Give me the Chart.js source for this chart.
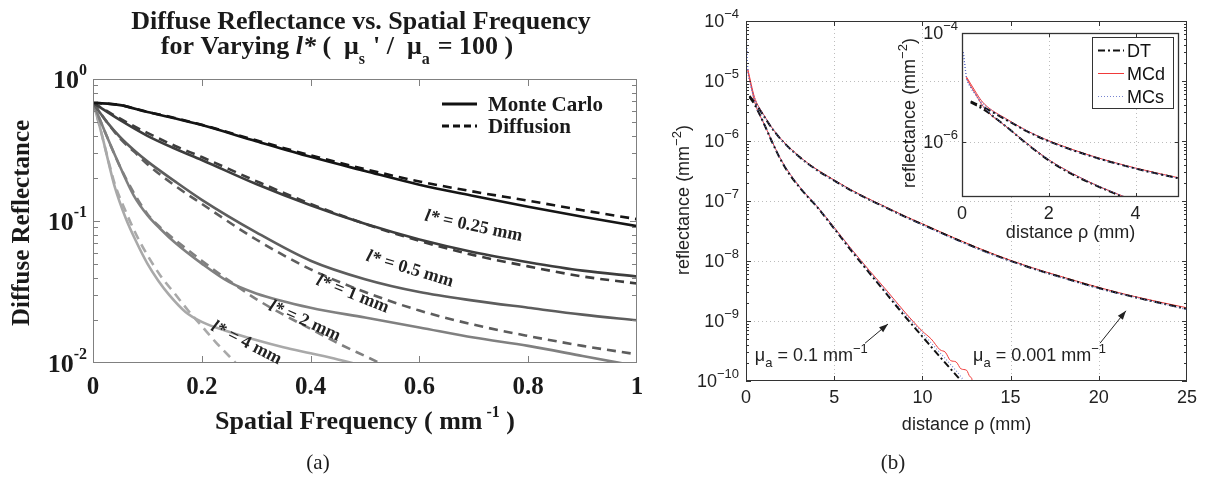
<!DOCTYPE html>
<html><head><meta charset="utf-8">
<script src="https://cdn.jsdelivr.net/npm/chart.js@4.4.1/dist/chart.umd.min.js"></script>
<style>
html,body{margin:0;padding:0;background:#fff;}
#wrap{position:relative;width:1206px;height:477px;overflow:hidden;background:#fff;}
canvas{position:absolute;top:0;}
</style></head><body>
<div id="wrap">
<canvas id="cA" width="645" height="477" style="left:0px"></canvas>
<canvas id="cB" width="566" height="477" style="left:640px"></canvas>
<canvas id="cC" width="566" height="477" style="left:640px"></canvas>
</div>
<script>
// ================= Panel (a) data : diffuse reflectance vs spatial frequency =================
const lstarNames = ['0.25', '0.5', '1', '2', '4'];
const freq025 = [0, 0.05, 0.1, 0.15, 0.2, 0.3, 0.4, 0.5, 0.6, 0.7, 0.8, 0.9, 1.0];
const mc025   = [0.68, 0.655, 0.585, 0.53, 0.474, 0.365, 0.283, 0.225, 0.18, 0.15, 0.126, 0.107, 0.092];
const df025   = [0.68, 0.655, 0.587, 0.532, 0.476, 0.37, 0.29, 0.232, 0.19, 0.161, 0.139, 0.119, 0.103];
const freq05  = [0, 0.05, 0.1, 0.15, 0.2, 0.3, 0.4, 0.5, 0.6, 0.7, 0.8, 0.9, 1.0];
const mc05    = [0.68, 0.513, 0.398, 0.324, 0.269, 0.182, 0.129, 0.0955, 0.0741, 0.0603, 0.0513, 0.0447, 0.0407];
const df05    = [0.68, 0.525, 0.417, 0.339, 0.282, 0.191, 0.132, 0.0955, 0.0724, 0.0575, 0.0479, 0.0407, 0.0363];
const freq1   = [0, 0.025, 0.05, 0.075, 0.1, 0.15, 0.2, 0.3, 0.4, 0.5, 0.6, 0.7, 0.8, 0.9, 1.0];
const mc1     = [0.68, 0.501, 0.389, 0.316, 0.263, 0.191, 0.141, 0.0832, 0.0525, 0.0389, 0.0316, 0.0275, 0.0245, 0.0219, 0.02];
const df1     = [0.68, 0.501, 0.380, 0.309, 0.251, 0.178, 0.132, 0.0741, 0.0457, 0.0316, 0.0234, 0.0186, 0.0155, 0.0132, 0.0115];
const freq2mc = [0, 0.025, 0.05, 0.075, 0.1, 0.125, 0.15, 0.2, 0.25, 0.3, 0.4, 0.5, 0.6, 0.7, 0.8, 0.9, 1.0];
const mc2     = [0.68, 0.398, 0.240, 0.151, 0.110, 0.0871, 0.0708, 0.0501, 0.0372, 0.0309, 0.0245, 0.0209, 0.0178, 0.0151, 0.0132, 0.0112, 0.0095];
const freq2df = [0, 0.025, 0.05, 0.075, 0.1, 0.125, 0.15, 0.2, 0.25, 0.3, 0.35, 0.4, 0.45, 0.5, 0.55];
const df2     = [0.68, 0.398, 0.240, 0.158, 0.112, 0.0891, 0.0741, 0.0525, 0.038, 0.0282, 0.0219, 0.0174, 0.0138, 0.0112, 0.0091];
const freq4mc = [0, 0.01, 0.02, 0.03, 0.04, 0.06, 0.08, 0.1, 0.12, 0.14, 0.17, 0.2, 0.25, 0.3, 0.35, 0.4, 0.45, 0.5];
const mc4     = [0.68, 0.501, 0.355, 0.245, 0.174, 0.105, 0.0708, 0.0501, 0.038, 0.0302, 0.0229, 0.0195, 0.0166, 0.0145, 0.0129, 0.0117, 0.0106, 0.0095];
const freq4df = [0, 0.01, 0.02, 0.03, 0.04, 0.06, 0.08, 0.1, 0.125, 0.15, 0.175, 0.2, 0.225, 0.25, 0.275];
const df4     = [0.68, 0.501, 0.355, 0.251, 0.182, 0.117, 0.0794, 0.0575, 0.0407, 0.0309, 0.0234, 0.0182, 0.0141, 0.0112, 0.0089];
const xTicksA = [0, 0.2, 0.4, 0.6, 0.8, 1];
const xTickLabelsA = ['0', '0.2', '0.4', '0.6', '0.8', '1'];
const yTicksA = [1, 0.1, 0.01];
const yTickExpA = ['0', '-1', '-2'];
// curve label anchors (data coordinates)
const labelFreqA = [0.70, 0.583, 0.478, 0.39, 0.283];
const labelReflA = [0.0937, 0.0467, 0.0311, 0.0201, 0.0141];

// ================= Panel (b) data : reflectance vs distance (log10 values) =================
const rhoHiDT  = [0.2, 0.5, 1, 1.5, 2, 3, 4, 5, 6, 7, 8, 9, 10, 12, 14, 16, 18, 20, 22, 25];
const logHiDT  = [-5.25, -5.36, -5.58, -5.8, -5.98, -6.26, -6.48, -6.66, -6.83, -6.98, -7.12, -7.26, -7.39, -7.65, -7.89, -8.1, -8.28, -8.45, -8.6, -8.8];
const rhoHiMCd = [0.1, 0.2, 0.3, 0.45, 0.6, 1, 1.5, 2, 3, 4, 5, 6, 7, 8, 9, 10, 12, 14, 16, 18, 20, 22, 25];
const logHiMCd = [-4.8, -4.93, -5.06, -5.24, -5.36, -5.56, -5.79, -5.97, -6.25, -6.47, -6.65, -6.82, -6.97, -7.11, -7.25, -7.38, -7.64, -7.88, -8.09, -8.27, -8.44, -8.59, -8.78];
const rhoHiMCs = [0.03, 0.06, 0.1, 0.2, 0.3, 0.5, 1, 2, 3, 4, 5, 6, 8, 10, 12, 14, 16, 18, 20, 22, 25];
const logHiMCs = [-4.35, -4.55, -4.8, -4.98, -5.1, -5.3, -5.57, -5.98, -6.26, -6.48, -6.66, -6.83, -7.12, -7.4, -7.66, -7.9, -8.1, -8.29, -8.46, -8.6, -8.81];
const rhoLoDT  = [0.2, 0.5, 1, 1.5, 2, 2.5, 3, 3.5, 4, 5, 6, 7, 8, 9, 10, 11, 12, 12.6];
const logLoDT  = [-5.27, -5.4, -5.7, -6.03, -6.33, -6.57, -6.76, -6.93, -7.09, -7.46, -7.84, -8.2, -8.56, -8.92, -9.26, -9.6, -9.93, -10.13];
const rhoLoMCd = [0.1, 0.2, 0.3, 0.45, 0.6, 1, 1.5, 2, 3, 4, 5, 6, 7, 8, 9, 10, 10.5, 11, 11.3, 11.6, 11.9, 12.2, 12.5, 12.7, 12.8, 12.85];
const logLoMCd = [-4.82, -4.97, -5.1, -5.3, -5.45, -5.7, -6.02, -6.32, -6.75, -7.08, -7.44, -7.81, -8.16, -8.5, -8.85, -9.17, -9.3, -9.48, -9.52, -9.66, -9.68, -9.8, -9.82, -9.93, -9.96, -10.1];
const rhoLoMCs = [0.03, 0.06, 0.1, 0.2, 0.3, 0.5, 1, 2, 3, 4, 5, 6, 7, 8, 9, 10, 11, 12, 12.5];
const logLoMCs = [-4.35, -4.55, -4.8, -5.0, -5.12, -5.35, -5.7, -6.32, -6.75, -7.08, -7.45, -7.82, -8.18, -8.53, -8.88, -9.2, -9.53, -9.86, -10.05];
const xTicksB = [0, 5, 10, 15, 20, 25];
const yExpB = [-4, -5, -6, -7, -8, -9, -10];
const xTicksInset = [0, 2, 4];
const yExpInset = [-4, -6];
const seriesNamesB = ['DT', 'MCd', 'MCs'];

// ================= helpers =================
const SERIF = '"Liberation Serif","Times New Roman",serif';
const SANS = '"Liberation Sans",Arial,Helvetica,sans-serif';
function pts(xs, ys) { return xs.map((v, i) => ({x: v, y: ys[i]})); }
function ptsLog(xs, ls) { return xs.map((v, i) => ({x: v, y: Math.pow(10, ls[i])})); }
function line(ctx, x1, y1, x2, y2) { ctx.beginPath(); ctx.moveTo(x1, y1); ctx.lineTo(x2, y2); ctx.stroke(); }
function runs(ctx, parts, x, y, align) {
  ctx.textAlign = 'left';
  let w = 0;
  const ws = parts.map(p => { ctx.font = p[1]; const m = ctx.measureText(p[0]).width; w += m; return m; });
  let cx = align === 'center' ? x - w / 2 : align === 'right' ? x - w : x;
  parts.forEach((p, i) => { ctx.font = p[1]; ctx.fillText(p[0], cx, y + (p[2] || 0)); cx += ws[i]; });
  return w;
}
function arrow(ctx, x1, y1, x2, y2) {
  line(ctx, x1, y1, x2, y2);
  const ang = Math.atan2(y2 - y1, x2 - x1), L = 9, W = 3.2;
  ctx.beginPath();
  ctx.moveTo(x2, y2);
  ctx.lineTo(x2 - L * Math.cos(ang) + W * Math.sin(ang), y2 - L * Math.sin(ang) - W * Math.cos(ang));
  ctx.lineTo(x2 - L * Math.cos(ang) - W * Math.sin(ang), y2 - L * Math.sin(ang) + W * Math.cos(ang));
  ctx.closePath(); ctx.fill();
}
const baseOpts = (pad, xr, yr) => ({
  responsive: false, animation: false, devicePixelRatio: 1, events: [],
  layout: {padding: pad},
  plugins: {legend: {display: false}, tooltip: {enabled: false}, title: {display: false}},
  elements: {point: {radius: 0}, line: {cubicInterpolationMode: 'monotone', fill: false}},
  scales: {
    x: {type: 'linear', min: xr[0], max: xr[1], display: false},
    y: {type: 'logarithmic', min: yr[0], max: yr[1], display: false}
  }
});

// ================= Panel (a) chart =================
const grays = ['#151515', '#3d3d3d', '#5d5d5d', '#808080', '#a9a9a9'];
const aPairs = [[freq025, mc025, freq025, df025], [freq05, mc05, freq05, df05], [freq1, mc1, freq1, df1],
                [freq2mc, mc2, freq2df, df2], [freq4mc, mc4, freq4df, df4]];
const dsA = [];
aPairs.forEach((p, i) => {
  dsA.push({label: 'Diffusion l*=' + lstarNames[i], data: pts(p[2], p[3]), borderColor: grays[i], borderWidth: 2.6, borderDash: [9, 6]});
  dsA.push({label: 'Monte Carlo l*=' + lstarNames[i], data: pts(p[0], p[1]), borderColor: grays[i], borderWidth: 2.6});
});
const angA = [12, 17, 22, 24, 27];
const B26 = `bold 26px ${SERIF}`, B16 = `bold 16px ${SERIF}`;
const plugA = {
  id: 'plugA',
  afterDraw(chart) {
    const {ctx, chartArea: a, scales: {x, y}} = chart;
    ctx.save();
    ctx.strokeStyle = '#808080'; ctx.lineWidth = 1;
    ctx.strokeRect(a.left + 0.5, a.top + 0.5, a.right - a.left - 1, a.bottom - a.top - 1);
    xTicksA.forEach(v => {
      const p = Math.round(x.getPixelForValue(v)) + 0.5;
      if (p > a.left + 2 && p < a.right - 2) { line(ctx, p, a.bottom, p, a.bottom - 7); line(ctx, p, a.top, p, a.top + 7); }
    });
    for (let e = -2; e < 0; e++) for (let m = 2; m < 10; m++) {
      const p = Math.round(y.getPixelForValue(m * Math.pow(10, e))) + 0.5;
      line(ctx, a.left, p, a.left + 5, p); line(ctx, a.right, p, a.right - 5, p);
    }
    { const p = Math.round(y.getPixelForValue(0.1)) + 0.5; line(ctx, a.left, p, a.left + 7, p); line(ctx, a.right, p, a.right - 7, p); }
    ctx.fillStyle = '#1a1a1a'; ctx.textBaseline = 'alphabetic';
    // x tick labels
    xTicksA.forEach((v, i) => runs(ctx, [[xTickLabelsA[i], `bold 25px ${SERIF}`]], x.getPixelForValue(v), a.bottom + 31, 'center'));
    // y tick labels
    yTicksA.forEach((v, i) => runs(ctx, [['10', `bold 26px ${SERIF}`], [yTickExpA[i], B16, -13]], a.left - 6, y.getPixelForValue(v) + 9, 'right'));
    // titles
    runs(ctx, [['Diffuse Reflectance vs. Spatial Frequency', B26]], 361, 29, 'center');
    runs(ctx, [['for Varying ', B26], ['l*', `italic bold 26px ${SERIF}`], [' (  \u03bc', B26],
               ['s  ', B16, 10], ['\' /  \u03bc', B26], ['a  ', B16, 10],
               ['= 100 )', B26]], 337, 54, 'center');
    runs(ctx, [['Spatial Frequency ( mm', B26], [' -1', B16, -12], [' )', B26]],
         (a.left + a.right) / 2, 429, 'center');
    ctx.save(); ctx.translate(29, (a.top + a.bottom) / 2 + 2); ctx.rotate(-Math.PI / 2);
    runs(ctx, [['Diffuse Reflectance', `bold 25px ${SERIF}`]], 0, 0, 'center'); ctx.restore();
    runs(ctx, [['(a)', `21px ${SERIF}`]], 318, 469, 'center');
    // legend
    const lx = a.right - 195, ly1 = a.top + 25, ly2 = a.top + 47;
    ctx.strokeStyle = '#111'; ctx.lineWidth = 2.8;
    line(ctx, lx, ly1, lx + 35, ly1);
    ctx.setLineDash([7, 4]); line(ctx, lx, ly2, lx + 35, ly2); ctx.setLineDash([]);
    runs(ctx, [['Monte Carlo', `bold 21px ${SERIF}`]], lx + 46, ly1 + 7, 'left');
    runs(ctx, [['Diffusion', `bold 21px ${SERIF}`]], lx + 46, ly2 + 7, 'left');
    // curve labels
    ctx.fillStyle = '#222';
    labelFreqA.forEach((f, i) => {
      ctx.save(); ctx.translate(x.getPixelForValue(f), y.getPixelForValue(labelReflA[i])); ctx.rotate(angA[i] * Math.PI / 180);
      runs(ctx, [['l*', `italic bold 18px ${SERIF}`], [' = ' + lstarNames[i] + ' mm', `bold 18px ${SERIF}`]], 0, 6, 'center');
      ctx.restore();
    });
    ctx.restore();
  }
};
new Chart(document.getElementById('cA'), {
  type: 'line', data: {datasets: dsA},
  options: baseOpts({left: 93, top: 79, right: 8, bottom: 114}, [0, 1], [0.01, 1]),
  plugins: [plugA]
});

// ================= Panel (b) datasets =================
const DTstyle = {borderColor: '#111', borderWidth: 2, borderDash: [7, 3, 2, 3]};
const MCdStyle = {borderColor: '#f03a3a', borderWidth: 1};
const MCsStyle = {borderColor: 'rgba(95,110,200,0.85)', borderWidth: 1.2, borderDash: [1, 2]};
function dsB() {
  return [
    Object.assign({label: 'MCs 0.001', data: ptsLog(rhoHiMCs, logHiMCs)}, MCsStyle),
    Object.assign({label: 'MCs 0.1', data: ptsLog(rhoLoMCs, logLoMCs)}, MCsStyle),
    Object.assign({label: 'DT 0.001', data: ptsLog(rhoHiDT, logHiDT)}, DTstyle),
    Object.assign({label: 'DT 0.1', data: ptsLog(rhoLoDT, logLoDT)}, DTstyle),
    Object.assign({label: 'MCd 0.001', data: ptsLog(rhoHiMCd, logHiMCd)}, MCdStyle),
    Object.assign({label: 'MCd 0.1', data: ptsLog(rhoLoMCd, logLoMCd)}, MCdStyle)
  ];
}
function expLabel(ctx, e, xr, yc, size) {
  runs(ctx, [['10', `${size}px ${SANS}`], ['\u2212' + Math.abs(e), `${Math.round(size * 0.7)}px ${SANS}`, -Math.round(size * 0.5)]], xr, yc + Math.round(size * 0.36), 'right');
}
function dotted(ctx) { ctx.strokeStyle = '#bdbdbd'; ctx.lineWidth = 1; ctx.setLineDash([1, 3]); }
// annotation anchors (data coordinates)
const annoRho = [0.5, 12.87];
const annoLog = [-9.67, -9.67];
const annoText = ['0.1', '0.001'];
const arrowFromRho = [6.75, 20.07], arrowFromLog = [-9.37, -9.37];
const arrowToRho = [8.05, 21.54], arrowToLog = [-9.05, -8.83];

const plugB = {
  id: 'plugB',
  beforeDatasetsDraw(chart) {
    const {ctx, chartArea: a, scales: {x, y}} = chart;
    ctx.save(); dotted(ctx);
    xTicksB.slice(1, -1).forEach(v => { const p = Math.round(x.getPixelForValue(v)) + 0.5; line(ctx, p, a.top, p, a.bottom); });
    yExpB.slice(1, -1).forEach(e => { const p = Math.round(y.getPixelForValue(Math.pow(10, e))) + 0.5; line(ctx, a.left, p, a.right, p); });
    ctx.restore();
  },
  afterDatasetsDraw(chart) {
    const {ctx, chartArea: a, scales: {x, y}} = chart;
    ctx.save();
    ctx.strokeStyle = '#333'; ctx.lineWidth = 1;
    ctx.strokeRect(a.left + 0.5, a.top + 0.5, a.right - a.left - 1, a.bottom - a.top - 1);
    xTicksB.slice(1, -1).forEach(v => { const p = Math.round(x.getPixelForValue(v)) + 0.5; line(ctx, p, a.bottom, p, a.bottom - 5); line(ctx, p, a.top, p, a.top + 5); });
    for (let e = -10; e < -4; e++) for (let m = 1; m < 10; m++) {
      const p = Math.round(y.getPixelForValue(m * Math.pow(10, e))) + 0.5; const L = m === 1 ? 5 : 3;
      line(ctx, a.left, p, a.left + L, p); line(ctx, a.right, p, a.right - L, p);
    }
    ctx.fillStyle = '#222'; ctx.textBaseline = 'alphabetic';
    xTicksB.forEach(v => runs(ctx, [[String(v), `18px ${SANS}`]], x.getPixelForValue(v), a.bottom + 22, 'center'));
    yExpB.forEach(e => expLabel(ctx, e, a.left - 7, y.getPixelForValue(Math.pow(10, e)), 18));
    runs(ctx, [['distance \u03c1 (mm)', `18px ${SANS}`]], (a.left + a.right) / 2, 430, 'center');
    ctx.save(); ctx.translate(a.left - 57, 200); ctx.rotate(-Math.PI / 2);
    runs(ctx, [['reflectance (mm', `18px ${SANS}`], ['\u22122', `13px ${SANS}`, -8], [')', `18px ${SANS}`]], 0, 0, 'center');
    ctx.restore();
    // annotations
    annoRho.forEach((r, i) => {
      runs(ctx, [['\u03bc', `18px ${SANS}`], ['a', `13px ${SANS}`, 6], [' = ' + annoText[i] + ' mm', `18px ${SANS}`], ['\u22121', `13px ${SANS}`, -8]],
           x.getPixelForValue(r), y.getPixelForValue(Math.pow(10, annoLog[i])), 'left');
      ctx.strokeStyle = '#222'; ctx.lineWidth = 1;
      arrow(ctx, x.getPixelForValue(arrowFromRho[i]), y.getPixelForValue(Math.pow(10, arrowFromLog[i])),
                 x.getPixelForValue(arrowToRho[i]), y.getPixelForValue(Math.pow(10, arrowToLog[i])));
    });
    runs(ctx, [['(b)', `21px ${SERIF}`]], 893 - 640, 469, 'center');
    ctx.restore();
  }
};
new Chart(document.getElementById('cB'), {
  type: 'line', data: {datasets: dsB()},
  options: baseOpts({left: 106, top: 21, right: 19, bottom: 96}, [0, 25], [1e-10, 1e-4]),
  plugins: [plugB]
});

// ================= Inset =================
const plugC = {
  id: 'plugC',
  beforeDatasetsDraw(chart) {
    const {ctx, chartArea: a, scales: {x, y}} = chart;
    ctx.save();
    ctx.fillStyle = '#fff'; ctx.fillRect(a.left, a.top, a.right - a.left, a.bottom - a.top);
    dotted(ctx);
    xTicksInset.slice(1).forEach(v => { const p = Math.round(x.getPixelForValue(v)) + 0.5; line(ctx, p, a.top, p, a.bottom); });
    { const p = Math.round(y.getPixelForValue(1e-6)) + 0.5; line(ctx, a.left, p, a.right, p); }
    ctx.restore();
  },
  afterDatasetsDraw(chart) {
    const {ctx, chartArea: a, scales: {x, y}} = chart;
    ctx.save();
    ctx.strokeStyle = '#333'; ctx.lineWidth = 1.3;
    ctx.strokeRect(a.left + 0.5, a.top + 0.5, a.right - a.left - 1, a.bottom - a.top - 1);
    ctx.lineWidth = 1;
    xTicksInset.slice(1).forEach(v => { const p = Math.round(x.getPixelForValue(v)) + 0.5; line(ctx, p, a.bottom, p, a.bottom - 4); line(ctx, p, a.top, p, a.top + 4); });
    { const p = Math.round(y.getPixelForValue(1e-6)) + 0.5; line(ctx, a.left, p, a.left + 4, p); line(ctx, a.right, p, a.right - 4, p); }
    ctx.fillStyle = '#222'; ctx.textBaseline = 'alphabetic';
    xTicksInset.forEach(v => runs(ctx, [[String(v), `18px ${SANS}`]], x.getPixelForValue(v), a.bottom + 22, 'center'));
    yExpInset.forEach(e => expLabel(ctx, e, a.left - 4, y.getPixelForValue(Math.pow(10, e)), 18));
    runs(ctx, [['distance \u03c1 (mm)', `18px ${SANS}`]], (a.left + a.right) / 2, a.bottom + 41, 'center');
    ctx.save(); ctx.translate(a.left - 47, (a.top + a.bottom) / 2 - 2); ctx.rotate(-Math.PI / 2);
    runs(ctx, [['reflectance (mm', `18px ${SANS}`], ['\u22122', `13px ${SANS}`, -8], [')', `18px ${SANS}`]], 0, 0, 'center');
    ctx.restore();
    // legend box
    const bx = a.right - 87, by = a.top + 4, bw = 81, bh = 71;
    ctx.fillStyle = '#fff'; ctx.fillRect(bx, by, bw, bh);
    ctx.strokeStyle = '#333'; ctx.lineWidth = 1; ctx.strokeRect(bx + 0.5, by + 0.5, bw, bh);
    const styles = [DTstyle, MCdStyle, MCsStyle];
    seriesNamesB.forEach((n, i) => {
      const ly = by + 13 + i * 23;
      const s = styles[i];
      ctx.strokeStyle = s.borderColor; ctx.lineWidth = s.borderWidth; ctx.setLineDash(s.borderDash || []);
      line(ctx, bx + 6, ly + 0.5, bx + 32, ly + 0.5); ctx.setLineDash([]);
      ctx.fillStyle = '#111';
      runs(ctx, [[n, `18px ${SANS}`]], bx + 35, ly + 6.5, 'left');
    });
    ctx.restore();
  }
};
new Chart(document.getElementById('cC'), {
  type: 'line', data: {datasets: dsB()},
  options: baseOpts({left: 322, top: 33, right: 27, bottom: 280}, [0, 5], [1e-7, 1e-4]),
  plugins: [plugC]
});
</script>
</body></html>
